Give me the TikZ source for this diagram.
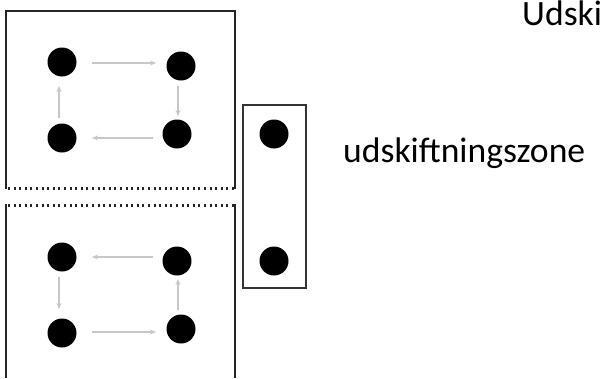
\documentclass[tikz,border=0pt]{standalone}
\usepackage{fontspec}
\setmainfont{Carlito}
\usetikzlibrary{arrows.meta}
\begin{document}
\begin{tikzpicture}[x=1pt,y=-1pt,
  dot/.style={circle,fill=black,inner sep=0pt,minimum size=29pt},
  flow/.style={draw=black!22,line width=1.4pt,-{Stealth[length=6pt,width=5pt]}},
  frame/.style={draw=black!85,line width=2.2pt},
  cut/.style={draw=black!85,line width=3pt,dash pattern=on 2pt off 3.6pt},
  zone/.style={draw=black!80,line width=1.2pt},
  lbl/.style={font=\fontsize{35.6}{38}\selectfont,inner sep=0pt,anchor=base west}]
\useasboundingbox (0,0) rectangle (600,378);
% top box
\draw[frame] (6,189) -- (6,11) -- (235,11) -- (235,189);
\draw[cut] (8,188) -- (234,188);
% bottom box
\draw[cut] (8,205) -- (234,205);
\draw[frame] (6,204) -- (6,378);
\draw[frame] (235,204) -- (235,378);
% side zone
\draw[zone] (243,105) rectangle (306,288);
% dots
\node[dot] (a1) at (62,62) {};
\node[dot] (a2) at (181,66) {};
\node[dot] (a3) at (62,138) {};
\node[dot] (a4) at (177,134) {};
\node[dot] (b1) at (62,257) {};
\node[dot] (b2) at (177,261) {};
\node[dot] (b3) at (62,333) {};
\node[dot] (b4) at (181,329) {};
\node[dot] (z1) at (274,134) {};
\node[dot] (z2) at (274,261) {};
% arrow end points
\coordinate (p1) at (92,63);  \coordinate (p2) at (156,63);
\coordinate (p3) at (178,86); \coordinate (p4) at (178,116);
\coordinate (p5) at (153,138); \coordinate (p6) at (92,138);
\coordinate (p7) at (59,118); \coordinate (p8) at (59,86);
\coordinate (q1) at (153,257); \coordinate (q2) at (92,257);
\coordinate (q3) at (59,277); \coordinate (q4) at (59,309);
\coordinate (q5) at (92,332); \coordinate (q6) at (156,332);
\coordinate (q7) at (178,310); \coordinate (q8) at (178,279);
% arrows top
\draw[flow] (p1) -- (p2);
\draw[flow] (p3) -- (p4);
\draw[flow] (p5) -- (p6);
\draw[flow] (p7) -- (p8);
% arrows bottom
\draw[flow] (q1) -- (q2);
\draw[flow] (q3) -- (q4);
\draw[flow] (q5) -- (q6);
\draw[flow] (q7) -- (q8);
% labels
\node[lbl] (zl) at (343,162) {udskiftningszone};
\node[lbl] (tl) at (522,25) {Udski};
\end{tikzpicture}
\end{document}
